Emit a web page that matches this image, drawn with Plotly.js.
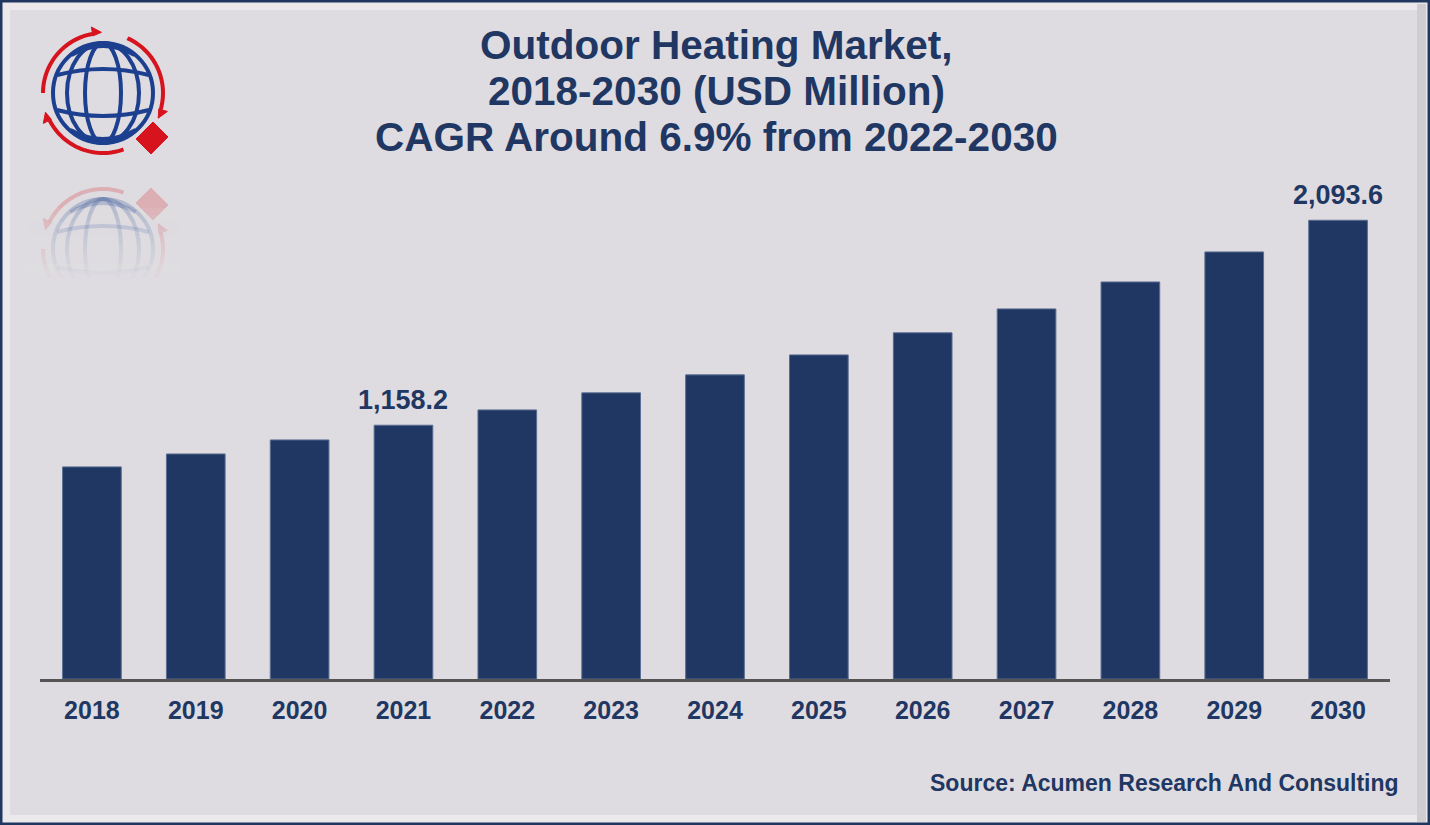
<!DOCTYPE html>
<html>
<head>
<meta charset="utf-8">
<script src="https://cdn.plot.ly/plotly-3.0.1.min.js"></script>
<style>html,body{margin:0;padding:0;background:#dedce0;}#chart{width:1430px;height:825px;}</style>
</head>
<body>
<div id="chart"></div>
<script>
const years = ['2018','2019','2020','2021','2022','2023','2024','2025','2026','2027','2028','2029','2030'];
const marketValues = [968, 1027, 1091, 1158.2, 1228, 1306, 1388, 1479, 1580, 1689, 1812, 1949, 2093.6];
const labelledYears = ['2021','2030'];
const titleLines = ['Outdoor Heating Market,', '2018-2030 (USD Million)', 'CAGR Around 6.9% from 2022-2030'];
const sourceText = 'Source: Acumen Research And Consulting';

const W = 1430, H = 825, ML = 40, MR = 40, MT = 170, MB = 146;
const PW = W - ML - MR, PH = H - MT - MB;
const NAVY = '#1f3762';
const BG = '#dedce0';
const FONT = 'Liberation Sans, Arial, Helvetica, sans-serif';

function px(x){ return (x - ML) / PW; }
function py(y){ return 1 - (y - MT) / PH; }
function pt(p){ return px(p[0]).toFixed(5) + ',' + py(p[1]).toFixed(5); }
function polyPath(pts, close){ return 'M' + pts.map(pt).join('L') + (close ? 'Z' : ''); }

// ---- logo (decoration) ----
function logoShapes(mirrorY, opacity){
  const m = (y) => mirrorY === null ? y : 2 * mirrorY - y;
  const M = (p) => [p[0], m(p[1])];
  const shapes = [];
  const cx = 103, cy = 93, R = 50;
  const blue = '#1c3f8f', red = '#d7141e';
  const common = {xref:'paper', yref:'paper', opacity: opacity, layer:'above'};
  function ell(rx, ry){
    const y0 = m(cy - ry), y1 = m(cy + ry);
    shapes.push(Object.assign({type:'circle', x0:px(cx - rx), x1:px(cx + rx), y0:py(Math.max(y0,y1)), y1:py(Math.min(y0,y1)), line:{color:blue, width:4}}, common));
  }
  ell(R, R);
  ell(36, R);
  ell(18, R);
  [[55,-9],[75,-6],[110,6],[130,9]].forEach(([yy, bend]) => {
    const d = yy - cy;
    const hx = Math.sqrt(R*R - d*d) - 1;
    const a = M([cx - hx, yy]), c = M([cx, yy + bend * 2]), b = M([cx + hx, yy]);
    shapes.push(Object.assign({type:'path', path:'M' + pt(a) + 'Q' + pt(c) + ' ' + pt(b), line:{color:blue, width:4}}, common));
  });
  const rA = 60;
  [[180, 100], [66, -16], [-70, -153]].forEach(([a0, a1]) => {
    const pts = [];
    for (let i = 0; i <= 30; i++){
      const a = (a0 + (a1 - a0) * i / 30) * Math.PI / 180;
      pts.push(M([cx + rA * Math.cos(a), cy - rA * Math.sin(a)]));
    }
    shapes.push(Object.assign({type:'path', path: polyPath(pts, false), line:{color:red, width:4}}, common));
    const a = a1 * Math.PI / 180;
    const e = [cx + rA * Math.cos(a), cy - rA * Math.sin(a)];
    const d = [Math.sin(a), Math.cos(a)];
    const n = [Math.cos(a), -Math.sin(a)];
    const tip = [e[0] + d[0]*9, e[1] + d[1]*9];
    const b1 = [e[0] + n[0]*7, e[1] + n[1]*7];
    const b2 = [e[0] - n[0]*2, e[1] - n[1]*2];
    shapes.push(Object.assign({type:'path', path: polyPath([M(tip), M(b1), M(b2)], true), fillcolor:red, line:{color:red, width:1}}, common));
  });
  const dc = [152, 138];
  shapes.push(Object.assign({type:'path', path: polyPath([M([dc[0]+1, dc[1]-16]), M([dc[0]+16, dc[1]-1]), M([dc[0]-1, dc[1]+16]), M([dc[0]-16, dc[1]+1])], true), fillcolor:red, line:{color:red, width:1}}, common));
  return shapes;
}

const shapes = [];
shapes.push({type:'rect', xref:'paper', yref:'paper', x0:px(6), x1:px(1424), y0:py(819), y1:py(6), line:{color:'#ebe9ec', width:8}, layer:'below'});
shapes.push({type:'rect', xref:'paper', yref:'paper', x0:px(1417), x1:px(1426), y0:py(822), y1:py(4), fillcolor:'#cfcdd2', line:{width:0}, layer:'below'});
logoShapes(null, 1).forEach(s => shapes.push(s));
logoShapes(171, 0.22).forEach(s => shapes.push(s));
// fade-out of the reflection
for (let k = 0; k < 12; k++) {
  const y0 = 208 + k * 7;
  shapes.push({type:'rect', xref:'paper', yref:'paper', x0:px(30), x1:px(180), y0:py(y0 + 7), y1:py(y0),
    fillcolor:BG, opacity: Math.min(1, 0.12 + k * 0.09), line:{width:0}, layer:'above'});
}
shapes.push({type:'rect', xref:'paper', yref:'paper', x0:px(28), x1:px(182), y0:py(325), y1:py(288), fillcolor:BG, line:{width:0}, layer:'above'});
shapes.push({type:'rect', xref:'paper', yref:'paper', x0:px(1), x1:px(1429), y0:py(824), y1:py(1), line:{color:'#22375f', width:3}, layer:'above'});

const annotations = [];
years.forEach((yr, i) => {
  if (labelledYears.includes(yr)) {
    annotations.push({
      x: i, y: marketValues[i], xref:'x', yref:'y',
      text: marketValues[i].toLocaleString('en-US', {minimumFractionDigits:1, maximumFractionDigits:1}),
      showarrow:false, yanchor:'bottom', yshift:8,
      font:{family:FONT, size:27, color:NAVY, weight:700}
    });
  }
});
const titleY = [45, 91, 137];
titleLines.forEach((line, i) => {
  annotations.push({
    xref:'paper', yref:'paper', x: px(716), y: py(titleY[i]), xanchor:'center', yanchor:'middle',
    text: line, showarrow:false,
    font:{family:FONT, size:40.5, color:NAVY, weight:700}
  });
});
annotations.push({
  xref:'paper', yref:'paper', x: px(1401), y: py(783), xanchor:'right', yanchor:'middle',
  text: sourceText, showarrow:false,
  font:{family:FONT, size:23, color:NAVY, weight:700}
});

const trace = {
  type:'bar', x: years, y: marketValues,
  marker:{color:NAVY, line:{color:'#5a6d94', width:1}},
  hoverinfo:'x+y'
};

const layout = {
  width: W, height: H,
  margin:{l:ML, r:MR, t:MT, b:MB, pad:0},
  paper_bgcolor:BG, plot_bgcolor:BG,
  bargap: 0.435,
  showlegend:false,
  xaxis:{
    type:'category', categoryorder:'array', categoryarray: years,
    range:[-0.5, years.length - 0.5], autorange:false,
    showgrid:false, zeroline:false,
    showline:true, linecolor:'#555555', linewidth:3,
    ticks:'', ticklabelstandoff: 7,
    tickfont:{family:FONT, size:25, color:NAVY, weight:700}
  },
  yaxis:{visible:false, range:[0, 2323], autorange:false, showgrid:false, zeroline:false, fixedrange:true},
  shapes: shapes,
  annotations: annotations
};

Plotly.newPlot('chart', [trace], layout, {displayModeBar:false, staticPlot:true});
</script>
</body>
</html>
